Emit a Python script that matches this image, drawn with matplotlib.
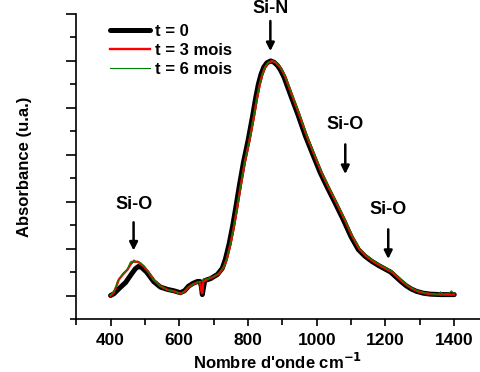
import matplotlib
matplotlib.use("Agg")
import matplotlib.pyplot as plt
from matplotlib.ticker import MultipleLocator, NullFormatter

plt.rcParams['font.family'] = ['Liberation Sans', 'DejaVu Sans']
plt.rcParams['font.weight'] = 'bold'

# spectra (wavenumber, absorbance)
wn0 = [400, 410, 425, 444, 460, 472, 481, 490, 505, 525, 545, 566, 585, 603, 615, 627, 640, 653, 660, 664,
       667, 670, 674, 691, 711, 725, 734, 745, 755, 765, 775, 787, 800, 813, 822, 830, 838, 846, 855, 866,
       876, 886, 895, 905, 915, 925, 944, 967, 990, 1010, 1031, 1055, 1077, 1100, 1121, 1140, 1160, 1180,
       1200, 1215, 1230, 1245, 1260, 1275, 1290, 1310, 1330, 1360, 1400]
a0 = [0.0, 0.04, 0.15, 0.28, 0.45, 0.57, 0.62, 0.6, 0.5, 0.3, 0.18, 0.13, 0.1, 0.06, 0.1, 0.2, 0.26, 0.3, 0.3, 0.2,
      0.02, 0.15, 0.32, 0.36, 0.45, 0.58, 0.77, 1.1, 1.47, 1.9, 2.35, 2.85, 3.3, 3.81, 4.2, 4.5, 4.72, 4.87, 4.96, 5.0,
      4.97, 4.9, 4.8, 4.65, 4.45, 4.25, 3.88, 3.4, 2.98, 2.62, 2.3, 1.95, 1.62, 1.25, 0.98, 0.84, 0.73, 0.64,
      0.56, 0.5, 0.4, 0.3, 0.21, 0.14, 0.09, 0.05, 0.03, 0.02, 0.02]

wn3 = [400, 409, 417, 424, 436, 449, 458, 463, 470, 478, 487, 497, 510, 525, 545, 566, 585, 603, 615, 627, 640,
       653, 660, 664, 667, 670, 680, 700, 715, 729, 738, 749, 759, 769, 779, 791, 804, 817, 826, 834, 842, 850,
       859, 870, 880, 890, 899, 909, 919, 929, 948, 971, 994, 1014, 1035, 1059, 1081, 1104, 1125, 1144, 1164,
       1184, 1204, 1219, 1234, 1249, 1264, 1279, 1294, 1314, 1334, 1364, 1400]
a3 = [0.0, 0.06, 0.2, 0.34, 0.45, 0.55, 0.66, 0.72, 0.72, 0.72, 0.68, 0.62, 0.5, 0.34, 0.2, 0.12, 0.09, 0.04, 0.08,
      0.18, 0.24, 0.28, 0.29, 0.1, 0.05, 0.3, 0.34, 0.4, 0.46, 0.6, 0.77, 1.1, 1.47, 1.9, 2.35, 2.85, 3.3, 3.81,
      4.2, 4.5, 4.72, 4.87, 4.96, 5.0, 4.97, 4.9, 4.8, 4.65, 4.45, 4.25, 3.88, 3.4, 2.98, 2.62, 2.3, 1.95, 1.62,
      1.25, 0.98, 0.84, 0.73, 0.64, 0.56, 0.5, 0.4, 0.3, 0.21, 0.14, 0.09, 0.05, 0.03, 0.02, 0.02]

wn6 = [400, 409, 417, 420, 424, 436, 449, 458, 463, 468, 474, 480, 487, 497, 510, 525, 545, 566, 585, 603, 615,
       627, 640, 653, 665, 672, 680, 700, 715, 729, 738, 749, 759, 769, 779, 791, 804, 817, 826, 834, 842, 850,
       859, 870, 880, 890, 899, 909, 919, 929, 948, 971, 994, 1014, 1035, 1059, 1081, 1104, 1125, 1144, 1164,
       1184, 1204, 1219, 1234, 1249, 1264, 1279, 1294, 1314, 1334, 1355, 1360, 1365, 1385, 1392, 1397, 1400]
a6 = [0.02, 0.08, 0.2, 0.3, 0.34, 0.47, 0.56, 0.72, 0.68, 0.76, 0.72, 0.73, 0.7, 0.63, 0.5, 0.34, 0.2, 0.12, 0.09,
      0.04, 0.08, 0.18, 0.24, 0.28, 0.3, 0.36, 0.35, 0.41, 0.47, 0.6, 0.78, 1.1, 1.48, 1.9, 2.36, 2.86, 3.3, 3.82,
      4.2, 4.5, 4.72, 4.88, 4.97, 5.0, 4.98, 4.91, 4.81, 4.66, 4.46, 4.26, 3.9, 3.42, 3.0, 2.64, 2.32, 1.97, 1.64,
      1.27, 1.0, 0.86, 0.75, 0.66, 0.58, 0.52, 0.42, 0.32, 0.22, 0.15, 0.1, 0.06, 0.03, 0.03, 0.08, 0.03, 0.05,
      0.1, 0.06, 0.04]

labels = ['t = 0', 't = 3 mois', 't = 6 mois']

# band annotations: text, wavenumber, text height, arrow top, arrow tip
bands = ['Si-N', 'Si-O', 'Si-O', 'Si-O']
band_wn = [865, 467, 1083, 1208]
band_txt = [6.12, 1.95, 3.64, 1.83]
band_top = [5.91, 1.62, 3.28, 1.47]
band_tip = [5.15, 0.9, 2.53, 0.72]

fig = plt.figure(figsize=(4.8, 3.72), dpi=100)
ax = fig.add_axes([75.5 / 480, 1 - 319 / 372, 1 - 75.5 / 480, (319 - 14) / 372])

ax.plot(wn0, a0, color='black', lw=3.6, label=labels[0], solid_capstyle='round')
ax.plot(wn3, a3, color='red', lw=1.7, label=labels[1])
ax.plot(wn6, a6, color='green', lw=0.8, label=labels[2])

for t, x, yt, y1, y2 in zip(bands, band_wn, band_txt, band_top, band_tip):
    ax.text(x, yt, t, ha='center', va='center', fontsize=13, fontweight='bold', clip_on=False)
    ax.annotate('', xy=(x, y2), xytext=(x, y1),
                arrowprops=dict(arrowstyle='-|>', color='black', lw=1.8, mutation_scale=12))

ax.set_xlim(298, 1475)
ax.set_ylim(-0.5, 6)
ax.xaxis.set_major_locator(MultipleLocator(200))
ax.xaxis.set_minor_locator(MultipleLocator(100))
ax.yaxis.set_major_locator(MultipleLocator(1))
ax.yaxis.set_minor_locator(MultipleLocator(0.5))
ax.yaxis.set_major_formatter(NullFormatter())
ax.spines['top'].set_visible(False)
ax.spines['right'].set_visible(False)
for s in ['left', 'bottom']:
    ax.spines[s].set_linewidth(1.2)
ax.tick_params(axis='x', which='major', length=5, width=1.2, labelsize=12.5, pad=5)
ax.tick_params(axis='x', which='minor', length=4, width=1.2)
ax.tick_params(axis='y', which='major', length=7, width=1.2)
ax.tick_params(axis='y', which='minor', length=4, width=1.2)
for lab in ax.get_xticklabels():
    lab.set_fontweight('bold')

ax.set_xlabel("Nombre d'onde cm$^{\\mathbf{-1}}$", fontsize=12, fontweight='bold', labelpad=3)
ax.set_ylabel('Absorbance (u.a.)', fontsize=12, fontweight='bold', labelpad=21)

leg = ax.legend(loc='upper left', bbox_to_anchor=(0.07, 0.99), frameon=False, fontsize=12,
                handlelength=2.4, handletextpad=0.3, labelspacing=0.25, borderaxespad=0)
for t in leg.get_texts():
    t.set_fontweight('bold')

fig.savefig('out.png', dpi=100)
